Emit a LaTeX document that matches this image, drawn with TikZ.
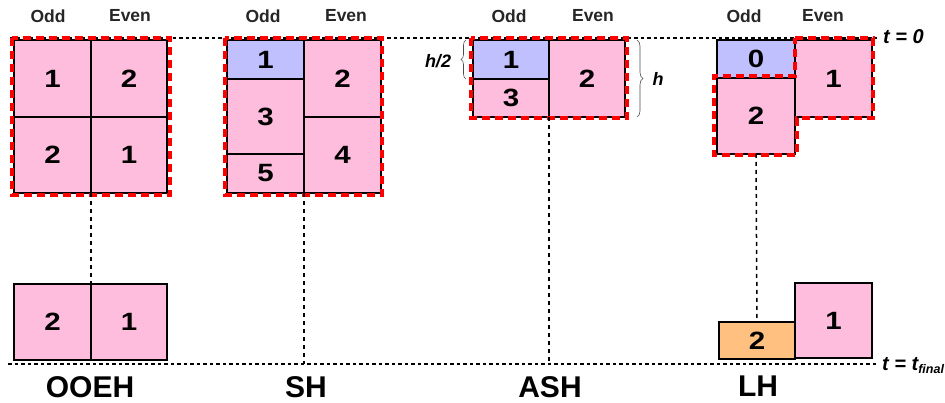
\documentclass[tikz,border=0pt]{standalone}
\usepackage{fontspec}
\setmainfont{Liberation Sans}
\newfontfamily\numfont[FakeStretch=1.18]{Liberation Sans}
\usetikzlibrary{decorations.pathreplacing}
\definecolor{cpink}{RGB}{255,189,222}
\definecolor{cblue}{RGB}{192,192,255}
\definecolor{corange}{RGB}{255,192,128}
\tikzset{
  cellbox/.style={draw=black, line width=1.8pt, inner sep=0pt, outer sep=0pt, font=\numfont\fontsize{25}{25}\selectfont\bfseries},
  colhead/.style={font=\fontsize{17.5}{18}\selectfont\bfseries, text=black!85, inner sep=0pt},
  method/.style={font=\fontsize{30}{30}\selectfont\bfseries, inner sep=0pt},
  timeline/.style={line width=1.6pt, dash pattern=on 3.5pt off 3pt},
  drop/.style={line width=1.5pt, dash pattern=on 4pt off 4pt},
  reddash/.style={draw=red, line width=4pt, dash pattern=on 8pt off 5pt},
  tlabel/.style={font=\fontsize{20}{20}\selectfont\bfseries\itshape, inner sep=0pt, anchor=west},
  hlabel/.style={font=\fontsize{18}{18}\selectfont\bfseries\itshape, inner sep=0pt},
  bracestyle/.style={draw=black!70, line width=0.6pt, decorate}
}
\begin{document}
\begin{tikzpicture}[x=1pt,y=-1pt]
\useasboundingbox (0,0) rectangle (945,403);
% time lines
\coordinate (t0L) at (10,38);
\coordinate (t0R) at (877,38);
\coordinate (tfL) at (8,364);
\coordinate (tfR) at (876,364);
\draw[timeline] (t0L) -- (t0R);
\draw[timeline] (tfL) -- (tfR);
\node[tlabel] (tzero) at (883,37) {t = 0};
\node[tlabel] (tfinal) at (882,366) {t = t\raisebox{-3pt}{\fontsize{12.5}{12.5}\selectfont final}};

% column headers
\node[colhead] (ooeh-odd) at (48,16) {Odd};
\node[colhead] (ooeh-even) at (130,16) {Even};
\node[colhead] (sh-odd) at (263,16) {Odd};
\node[colhead] (sh-even) at (346,16) {Even};
\node[colhead] (ash-odd) at (509,16) {Odd};
\node[colhead] (ash-even) at (593,16) {Even};
\node[colhead] (lh-odd) at (744,16) {Odd};
\node[colhead] (lh-even) at (823,16) {Even};

% OOEH
\node[cellbox, fill=cpink, minimum width=77pt, minimum height=77pt] (o1) at (52.5,78.5) {1};
\node[cellbox, fill=cpink, minimum width=76pt, minimum height=77pt] (e1) at (129,78.5) {2};
\node[cellbox, fill=cpink, minimum width=77pt, minimum height=76pt] (o2) at (52.5,155) {2};
\node[cellbox, fill=cpink, minimum width=76pt, minimum height=76pt] (e2) at (129,155) {1};
\node[cellbox, fill=cpink, minimum width=77pt, minimum height=76pt] (ob2) at (52.5,322) {2};
\node[cellbox, fill=cpink, minimum width=76pt, minimum height=76pt] (ob1) at (129,322) {1};
\draw[reddash] (12,38) rectangle (170,195);
\draw[drop] (o2.south east) -- (ob2.north east);

% SH
\node[cellbox, fill=cblue, minimum width=77pt, minimum height=39pt] (s1) at (265.5,59.5) {1};
\node[cellbox, fill=cpink, minimum width=77pt, minimum height=75pt] (s3) at (265.5,116.5) {3};
\node[cellbox, fill=cpink, minimum width=77pt, minimum height=39pt] (s5) at (265.5,173.5) {5};
\node[cellbox, fill=cpink, minimum width=77pt, minimum height=77pt] (s2) at (342.5,78.5) {2};
\node[cellbox, fill=cpink, minimum width=77pt, minimum height=76pt] (s4) at (342.5,155) {4};
\draw[reddash] (225,38) rectangle (382,195);
\coordinate (shEnd) at (304,364);
\draw[drop] (s5.south east) -- (shEnd);

% ASH
\node[cellbox, fill=cblue, minimum width=76pt, minimum height=39pt] (a1) at (511,59.5) {1};
\node[cellbox, fill=cpink, minimum width=76pt, minimum height=38pt] (a3) at (511,98) {3};
\node[cellbox, fill=cpink, minimum width=76pt, minimum height=77pt] (a2) at (587,78.5) {2};
\draw[reddash] (471,38) rectangle (627,118);
\coordinate (ashEnd) at (549,364);
\draw[drop] (a3.south east) -- (ashEnd);
\coordinate (hb1) at (466,79);
\coordinate (hb2) at (466,40);
\draw[bracestyle, decoration={brace, amplitude=5pt}] (hb1) -- (hb2);
\node[hlabel] (halfh) at (438,61) {h/2};
\coordinate (hc1) at (637,40);
\coordinate (hc2) at (637,117);
\draw[bracestyle, decoration={brace, amplitude=6pt}] (hc1) -- (hc2);
\node[hlabel] (fullh) at (658,79) {h};

% LH
\node[cellbox, fill=cblue, minimum width=78pt, minimum height=38pt] (l0) at (756,59) {0};
\node[cellbox, fill=cpink, minimum width=78pt, minimum height=76pt] (l2) at (756,116) {2};
\node[cellbox, fill=cpink, minimum width=77pt, minimum height=77pt] (l1) at (833.5,78.5) {1};
\node[cellbox, fill=corange, minimum width=76pt, minimum height=37pt] (lb2) at (757,340.5) {2};
\node[cellbox, fill=cpink, minimum width=77pt, minimum height=75pt] (lb1) at (833.5,320.5) {1};
\draw[reddash] (795,38) -- (873,38) -- (873,118) -- (797,118) -- (797,155) -- (714,155) -- (714,76) -- (795,76) -- cycle;
\draw[drop] (l2.south) -- (lb2.north);

% method labels
\node[method] (lab-ooeh) at (90,387) {OOEH};
\node[method] (lab-sh) at (306,387) {SH};
\node[method] (lab-ash) at (550,387) {ASH};
\node[method] (lab-lh) at (758,386) {LH};
\end{tikzpicture}
\end{document}
